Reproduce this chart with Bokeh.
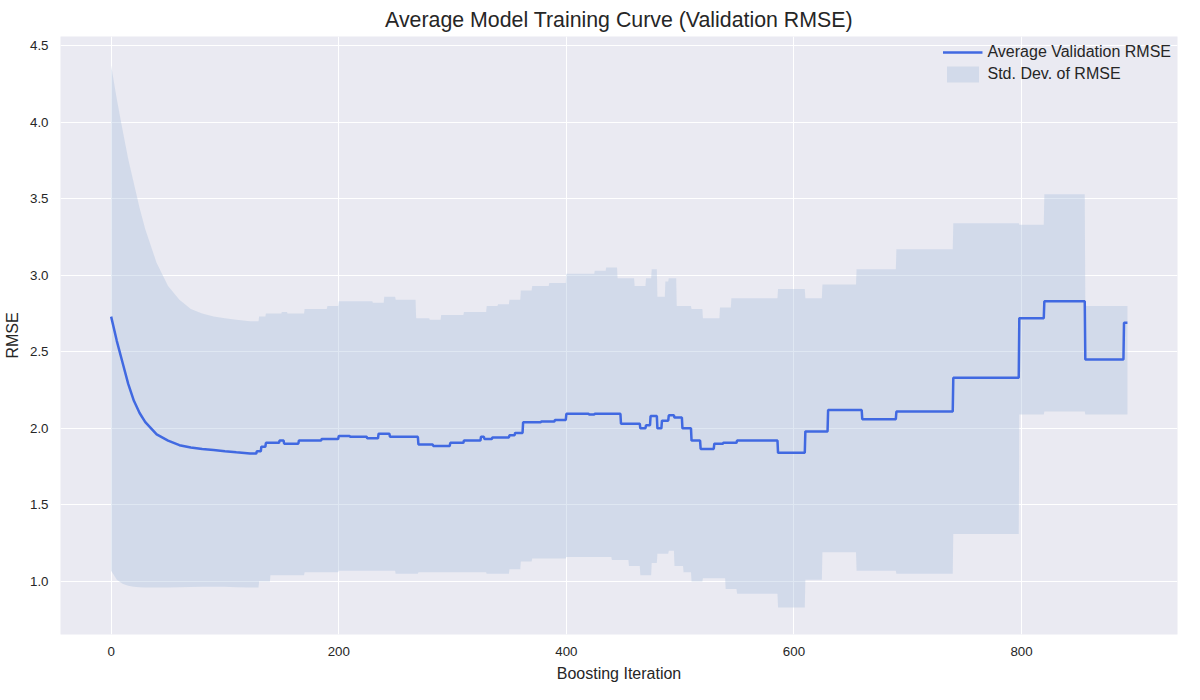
import numpy as np
from bokeh.plotting import figure
from bokeh.models import Range1d, FixedTicker, Legend, LegendItem
from bokeh.embed import file_html
from bokeh.resources import INLINE

# smooth early phase
early_iter = [0, 5, 10, 15, 20, 25, 30, 40, 50, 60, 70, 80, 90, 100, 110, 122]
early_mean = [2.73, 2.57, 2.43, 2.29, 2.18, 2.10, 2.04, 1.96, 1.92, 1.89, 1.875, 1.865, 1.858, 1.85, 1.843, 1.835]
early_upper = [4.37, 4.15, 3.95, 3.76, 3.6, 3.44, 3.30, 3.08, 2.93, 2.84, 2.78, 2.75, 2.73, 2.72, 2.71, 2.70]
early_lower = [1.07, 1.01, 0.985, 0.972, 0.965, 0.962, 0.96, 0.96, 0.96, 0.962, 0.963, 0.965, 0.965, 0.965, 0.962, 0.96]

# stepwise phase (value held until next breakpoint)
mean_iter = [122, 128, 132, 136, 148, 152, 165, 185, 200, 210, 225, 235, 245, 270, 283, 298, 310, 325, 328, 335, 350, 355, 362, 378, 390, 400, 420, 425, 448, 465, 470, 474, 480, 484, 490, 495, 502, 510, 518, 530, 538, 550, 586, 610, 630, 660, 690, 740, 798, 820, 856, 890, 893]
mean_vals = [1.835, 1.85, 1.88, 1.905, 1.92, 1.90, 1.92, 1.93, 1.95, 1.945, 1.935, 1.965, 1.945, 1.895, 1.885, 1.905, 1.92, 1.945, 1.93, 1.94, 1.955, 1.97, 2.04, 2.045, 2.055, 2.095, 2.09, 2.095, 2.03, 2.00, 2.02, 2.08, 2.00, 2.05, 2.085, 2.07, 2.00, 1.92, 1.865, 1.90, 1.905, 1.92, 1.84, 1.98, 2.12, 2.06, 2.11, 2.33, 2.72, 2.83, 2.45, 2.69, 2.69]

upper_iter = [122, 130, 136, 150, 155, 170, 190, 200, 230, 240, 250, 268, 280, 290, 310, 330, 340, 350, 360, 370, 385, 400, 425, 435, 445, 460, 470, 475, 480, 487, 490, 497, 510, 520, 535, 545, 586, 610, 625, 655, 690, 740, 798, 820, 856, 890, 893]
upper_vals = [2.70, 2.73, 2.75, 2.76, 2.75, 2.78, 2.80, 2.83, 2.82, 2.86, 2.84, 2.72, 2.71, 2.74, 2.76, 2.80, 2.81, 2.84, 2.90, 2.93, 2.95, 3.01, 3.03, 3.05, 2.98, 2.93, 2.98, 3.04, 2.86, 2.96, 2.98, 2.80, 2.78, 2.72, 2.79, 2.85, 2.91, 2.85, 2.94, 3.04, 3.17, 3.34, 3.33, 3.53, 2.80, 2.80, 2.80]
lower_iter = [122, 130, 140, 170, 200, 250, 270, 330, 350, 360, 370, 400, 440, 455, 465, 475, 480, 490, 495, 503, 510, 520, 540, 550, 586, 610, 625, 655, 690, 740, 798, 820, 856, 890, 893]
lower_vals = [0.96, 1.00, 1.04, 1.06, 1.07, 1.05, 1.06, 1.05, 1.08, 1.13, 1.15, 1.16, 1.14, 1.10, 1.04, 1.12, 1.18, 1.20, 1.10, 1.06, 1.00, 1.02, 0.95, 0.92, 0.83, 1.01, 1.19, 1.07, 1.05, 1.31, 2.09, 2.11, 2.09, 2.09, 2.09]

x_ticks = [0, 200, 400, 600, 800]
y_ticks = [1.0, 1.5, 2.0, 2.5, 3.0, 3.5, 4.0, 4.5]

def held(xs, vs, grid):
    idx = np.searchsorted(np.array(xs), grid, side="right") - 1
    idx = np.clip(idx, 0, len(vs) - 1)
    return np.array(vs)[idx]

grid_step = np.arange(122, 893.5, 0.5)
gx = np.concatenate([np.array(early_iter, float), grid_step[1:]])
mean_all = np.concatenate([early_mean, held(mean_iter, mean_vals, grid_step[1:])])
up_all = np.concatenate([early_upper, held(upper_iter, upper_vals, grid_step[1:])])
lo_all = np.concatenate([early_lower, held(lower_iter, lower_vals, grid_step[1:])])

FONT = "Liberation Sans"
p = figure(width=1184, height=684, output_backend="svg", toolbar_location=None,
           x_range=Range1d(-44.5, 937), y_range=Range1d(0.653, 4.56),
           title="Average Model Training Curve (Validation RMSE)",
           background_fill_color="#EAEAF2", border_fill_color="white",
           min_border_left=52, min_border_right=7, min_border_top=30, min_border_bottom=46)
p.title.align = "center"
p.title.text_font = FONT
p.title.text_font_size = "16pt"
p.title.text_font_style = "normal"
p.title.text_color = "#262626"

band = p.varea(x=gx, y1=lo_all, y2=up_all, fill_color="#B0C4DE", fill_alpha=0.4)
line = p.line(gx, mean_all, line_color="#4169E1", line_width=2.5)

for ax in (p.xaxis, p.yaxis):
    ax.axis_line_color = None
    ax.major_tick_line_color = None
    ax.minor_tick_line_color = None
    ax.major_label_text_font = FONT
    ax.major_label_text_font_size = "10pt"
    ax.major_label_text_color = "#262626"
    ax.axis_label_text_font = FONT
    ax.axis_label_text_font_size = "12pt"
    ax.axis_label_text_font_style = "normal"
    ax.axis_label_text_color = "#262626"
    ax.axis_label_standoff = 6
    ax.major_label_standoff = 6
p.xaxis.ticker = FixedTicker(ticks=x_ticks)
p.yaxis.ticker = FixedTicker(ticks=y_ticks)
p.yaxis.major_label_overrides = {v: f"{v:.1f}" for v in y_ticks}
p.xaxis.axis_label = "Boosting Iteration"
p.yaxis.axis_label = "RMSE"
p.grid.grid_line_color = "white"
p.grid.grid_line_width = 1
p.outline_line_color = None

legend = Legend(items=[LegendItem(label="Average Validation RMSE", renderers=[line]),
                       LegendItem(label="Std. Dev. of RMSE", renderers=[band])],
                location="top_right", background_fill_alpha=0, border_line_color=None,
                label_text_font=FONT, label_text_font_size="12pt",
                label_text_color="#262626", glyph_width=40, spacing=2, margin=6)
p.add_layout(legend)

open("out.html", "w").write(file_html(p, INLINE))
